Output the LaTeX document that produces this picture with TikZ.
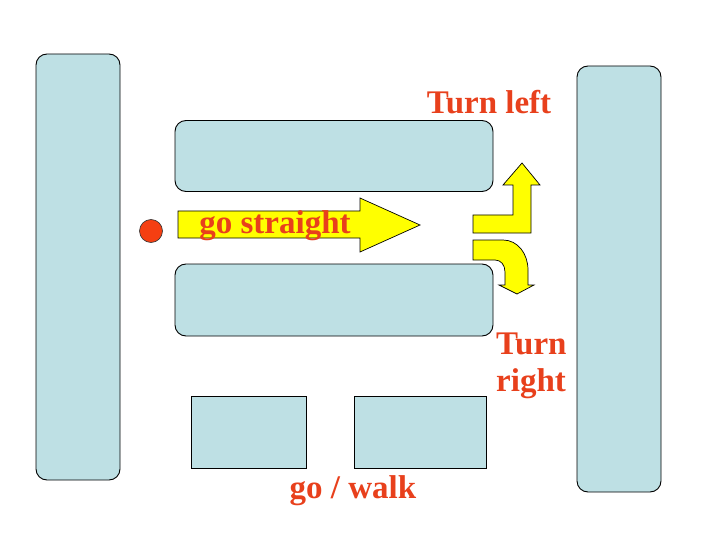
\documentclass[tikz,border=0pt]{standalone}
\usepackage{fontspec}
\setmainfont{Liberation Serif}
\usetikzlibrary{positioning}
\definecolor{wallblue}{HTML}{BEE0E4}
\definecolor{signred}{HTML}{E8401C}
\definecolor{dotred}{HTML}{F53F12}
\definecolor{arrowyel}{HTML}{FFFF00}

\begin{document}
\begin{tikzpicture}[x=1pt, y=-1pt,
  block/.style={draw, line width=0.9pt, fill=wallblue, rounded corners=11pt, inner sep=0pt},
  flatblock/.style={draw, line width=0.9pt, fill=wallblue, inner sep=0pt},
  sign/.style={text=signred, font=\fontsize{33}{37}\selectfont\bfseries, inner sep=0pt},
  yarrow/.style={draw, line width=0.7pt, fill=arrowyel, line join=miter}
]
  \useasboundingbox (0,0) rectangle (720,540);

  % walls and blocks
  \node[block, minimum width=84pt, minimum height=426pt] (wallL) at (78,267) {};
  \node[block, minimum width=84pt, minimum height=426pt] (wallR) at (619,279) {};
  \node[block, minimum width=318pt, minimum height=71pt] (blockT) at (334,156) {};
  \node[block, minimum width=318pt, minimum height=72pt] (blockM) at (334,300) {};
  \node[flatblock, minimum width=115pt, minimum height=72pt] (boxA) at (248.5,432) {};
  \node[flatblock, minimum width=132pt, minimum height=72pt] (boxB) at (420,432) {};

  % the walker
  \node[circle, draw=black!80, line width=0.6pt, fill=dotred, minimum size=23pt, inner sep=0pt] (dot) at (151,231) {};

  % arrows
  \draw[yarrow] (178,211) -- (360,211) -- (360,198) -- (420,225) -- (360,252)
    -- (360,238) -- (178,238) -- cycle;
  \draw[yarrow] (473,215) -- (513,215) -- (513,185) -- (503,185) -- (522,163)
    -- (540,185) -- (531,185) -- (531,233) -- (473,233) -- cycle;
  \draw[yarrow] (473,240) -- (503,240) .. controls (518,240) and (528,254) .. (528,270)
    -- (528,285) -- (534,285) -- (517,294) -- (499,285) -- (505,285) -- (505,272)
    .. controls (505,265) and (501,260) .. (495,260) -- (473,260) -- cycle;

  % labels
  \node[sign] (straight) at (275,226) {go straight};
  \node[sign] (left) at (489,102) {Turn left};
  \node[sign, align=left, anchor=west] (right) at (496,366) {Turn\\right};
  \node[sign] (walk) at (353,491) {go / walk};
\end{tikzpicture}
\end{document}
